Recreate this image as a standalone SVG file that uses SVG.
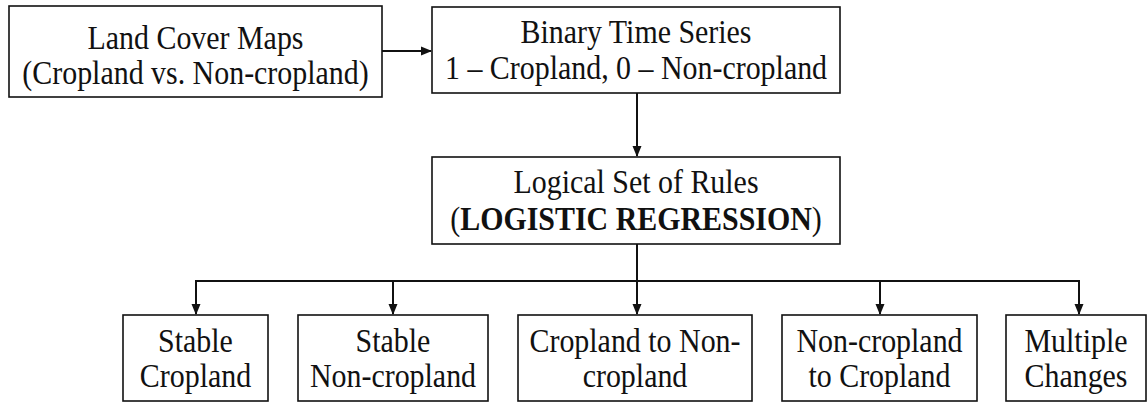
<svg xmlns="http://www.w3.org/2000/svg" width="1148" height="402" viewBox="0 0 1148 402">
<style>
.box{fill:#fff;stroke:#111;stroke-width:1.6}
.t{font-family:"Liberation Serif","Times New Roman",serif;font-size:34px;fill:#111;text-anchor:middle}
.b{font-weight:bold}
.c{fill:none;stroke:#111;stroke-width:2}
</style>
<defs>
<marker id="ah" markerWidth="11" markerHeight="10" refX="10" refY="5" orient="auto" markerUnits="userSpaceOnUse">
<path d="M0,0.5 L11,5 L0,9.5 Z" fill="#111"/>
</marker>
</defs>
<g id="connectors">
<line class="c" x1="382" y1="51" x2="431" y2="51" marker-end="url(#ah)"/>
<line class="c" x1="637" y1="93" x2="637" y2="156" marker-end="url(#ah)"/>
<line class="c" x1="637" y1="244" x2="637" y2="314" marker-end="url(#ah)"/>
<polyline class="c" points="196,314 196,281 1079,281 1079,314" marker-end="url(#ah)"/>
<line class="c" x1="196" y1="281" x2="196" y2="314" marker-end="url(#ah)"/>
<line class="c" x1="393" y1="281" x2="393" y2="314" marker-end="url(#ah)"/>
<line class="c" x1="880" y1="281" x2="880" y2="314" marker-end="url(#ah)"/>
</g>
<g id="n1">
<rect class="box" x="9" y="6" width="373" height="91"/>
<text class="t" transform="translate(195.5 49) scale(0.88 1)">Land Cover Maps</text>
<text class="t" transform="translate(195.5 84) scale(0.88 1)">(Cropland vs. Non-cropland)</text>
</g>
<g id="n2">
<rect class="box" x="432" y="7" width="408" height="86"/>
<text class="t" transform="translate(636 43) scale(0.88 1)">Binary Time Series</text>
<text class="t" transform="translate(636 79) scale(0.88 1)">1 – Cropland, 0 – Non-cropland</text>
</g>
<g id="n3">
<rect class="box" x="432" y="157" width="408" height="87"/>
<text class="t" transform="translate(636 193) scale(0.88 1)">Logical Set of Rules</text>
<text class="t" transform="translate(636 230) scale(0.88 1)">(<tspan class="b">LOGISTIC REGRESSION</tspan>)</text>
</g>
<g id="n4">
<rect class="box" x="123" y="315" width="145" height="86"/>
<text class="t" transform="translate(195.5 352) scale(0.88 1)">Stable</text>
<text class="t" transform="translate(195.5 387) scale(0.88 1)">Cropland</text>
</g>
<g id="n5">
<rect class="box" x="298" y="315" width="190" height="86"/>
<text class="t" transform="translate(393 352) scale(0.88 1)">Stable</text>
<text class="t" transform="translate(393 387) scale(0.88 1)">Non-cropland</text>
</g>
<g id="n6">
<rect class="box" x="518" y="315" width="234" height="86"/>
<text class="t" transform="translate(635 352) scale(0.88 1)">Cropland to Non-</text>
<text class="t" transform="translate(635 387) scale(0.88 1)">cropland</text>
</g>
<g id="n7">
<rect class="box" x="782" y="315" width="195" height="86"/>
<text class="t" transform="translate(879.5 352) scale(0.88 1)">Non-cropland</text>
<text class="t" transform="translate(879.5 387) scale(0.88 1)">to Cropland</text>
</g>
<g id="n8">
<rect class="box" x="1006" y="315" width="140" height="86"/>
<text class="t" transform="translate(1076 352) scale(0.88 1)">Multiple</text>
<text class="t" transform="translate(1076 387) scale(0.88 1)">Changes</text>
</g>
</svg>
